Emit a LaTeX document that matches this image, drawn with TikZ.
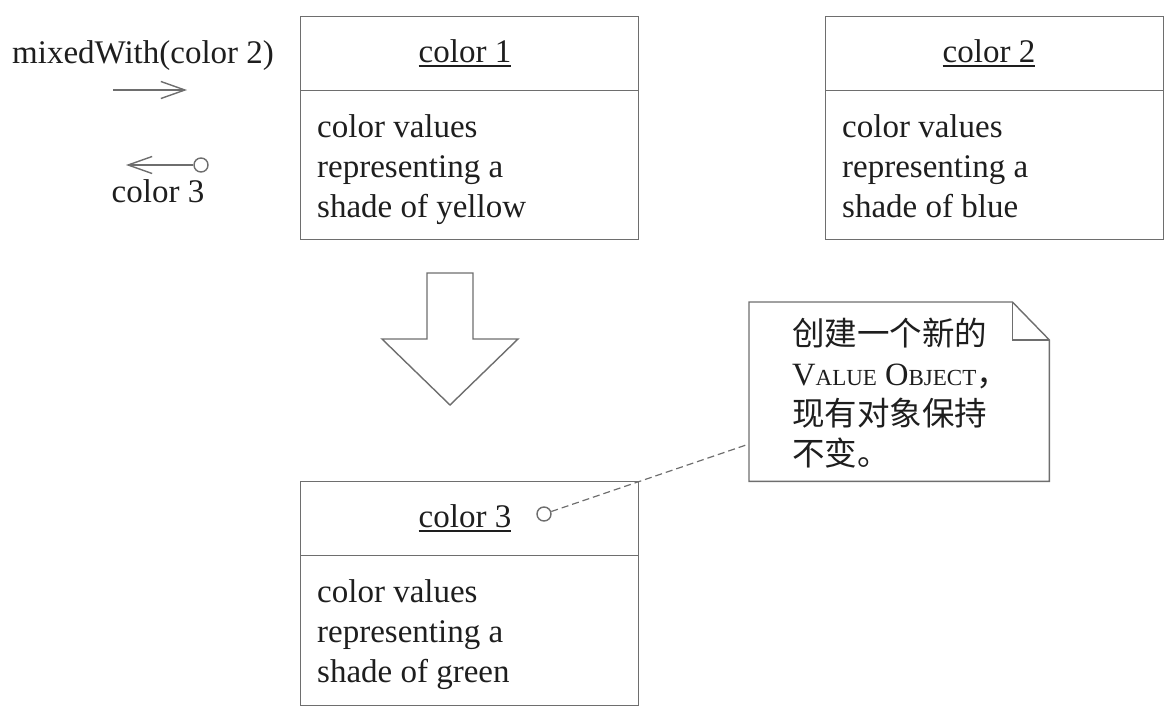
\documentclass[tikz,border=0pt]{standalone}
\usepackage{fontspec}
\setmainfont{Liberation Serif}
\newfontfamily\cjk{Noto Sans CJK SC}
\usetikzlibrary{arrows.meta}
\definecolor{lncol}{HTML}{6E6E6E}
\definecolor{txcol}{HTML}{1E1E1E}
\begin{document}
\begin{tikzpicture}[x=1pt,y=-1pt,
  edge/.style={draw=lncol, line width=1.4pt},
  compartment/.style={edge, rectangle, anchor=north west, inner sep=0pt, minimum width=338pt},
  titletext/.style={text=txcol, font=\fontsize{33}{40}\selectfont, inner sep=0pt, anchor=base},
  bodytext/.style={text=txcol, font=\fontsize{33}{40}\selectfont, inner sep=0pt, anchor=north west, align=left},
  ulstyle/.style={draw=txcol, line width=1.3pt},
  barb/.style={edge, -{Straight Barb[length=24pt,width=17pt]}},
  hole/.style={circle, edge, fill=white, inner sep=0pt, minimum size=14pt},
]
\useasboundingbox (0,0) rectangle (1176,718);

% color 1
\node[compartment, minimum height=74pt] (c1t) at (300,16) {};
\node[compartment, minimum height=149pt] (c1b) at (300,90) {};
\node[titletext] (c1n) at (465,62) {color 1};
\draw[ulstyle] ([yshift=-4pt]c1n.base west) -- ([yshift=-4pt]c1n.base east);
\node[bodytext] (c1v) at (317,114.5) {color values\\representing a\\shade of yellow};

% color 2
\node[compartment, minimum height=74pt] (c2t) at (825,16) {};
\node[compartment, minimum height=149pt] (c2b) at (825,90) {};
\node[titletext] (c2n) at (989,62) {color 2};
\draw[ulstyle] ([yshift=-4pt]c2n.base west) -- ([yshift=-4pt]c2n.base east);
\node[bodytext] (c2v) at (842,114.5) {color values\\representing a\\shade of blue};

% color 3
\node[compartment, minimum height=74pt] (c3t) at (300,481) {};
\node[compartment, minimum height=150pt] (c3b) at (300,555) {};
\node[titletext] (c3n) at (465,527) {color 3};
\draw[ulstyle] ([yshift=-4pt]c3n.base west) -- ([yshift=-4pt]c3n.base east);
\node[bodytext] (c3v) at (317,579.5) {color values\\representing a\\shade of green};
\node[hole] (h3) at (544,514) {};

% left messages
\node[titletext, anchor=base west] (mw) at (12,63) {mixedWith(color 2)};
\coordinate (a1s) at (113,90);
\coordinate (a1e) at (187,90);
\draw[barb] (a1s) -- (a1e);
\node[hole] (h2) at (201,165) {};
\coordinate (a2e) at (126,165);
\draw[barb] (h2) -- (a2e);
\node[titletext] (c3lbl) at (158,202) {color 3};

% big arrow
\draw[edge, fill=white] (427,273) -- (473,273) -- (473,339) -- (518,339) -- (450,405) -- (382,339) -- (427,339) -- cycle;

% note
\node[rectangle, anchor=north west, inner sep=0pt, minimum width=300pt, minimum height=179pt] (note) at (749,302) {};
\draw[edge, fill=white] (note.north west) -- ([xshift=-37pt]note.north east) -- ([yshift=-38pt]note.north east) -- (note.south east) -- (note.south west) -- cycle;
\draw[edge] ([xshift=-37pt]note.north east) -- ([xshift=-37pt,yshift=-38pt]note.north east) -- ([yshift=-38pt]note.north east);
\node[anchor=north west, inner sep=0pt, align=left, text=txcol, font=\fontsize{32.5}{40}\selectfont] (notetxt) at (792,318)
  {{\cjk 创建一个新的}\\V{\fontsize{23}{23}\selectfont ALUE} O{\fontsize{23}{23}\selectfont BJECT}{\cjk ，}\\{\cjk 现有对象保持}\\{\cjk 不变。}};
\coordinate (notepin) at (749,444);
\draw[edge, line width=1.2pt, dash pattern=on 7pt off 4pt] (h3) -- (notepin);
\end{tikzpicture}
\end{document}
